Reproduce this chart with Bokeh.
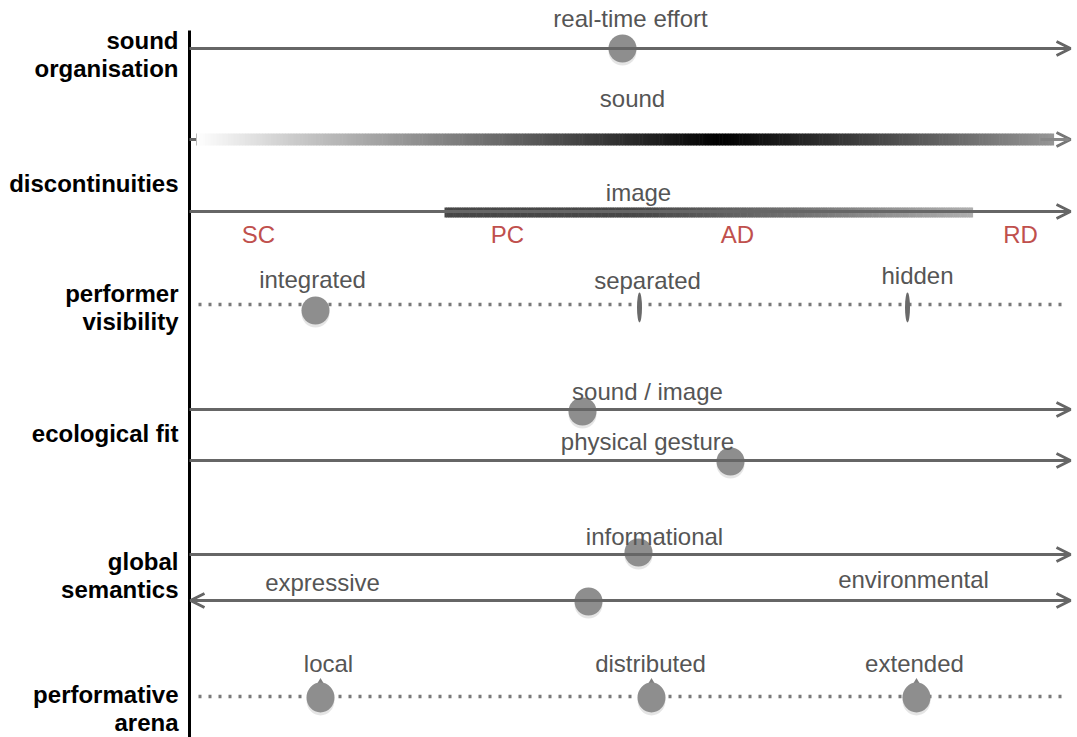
import numpy as np
from bokeh.plotting import figure
from bokeh.models import Range1d, Arrow, OpenHead
from bokeh.core.properties import value
from bokeh.embed import file_html
from bokeh.resources import INLINE

# ---------------- data ----------------
row_labels = ["sound", "organisation", "discontinuities", "performer", "visibility",
              "ecological fit", "global", "semantics", "performative", "arena"]
row_label_y = [40, 68, 183, 293, 321, 433, 561, 589, 694, 722]

# solid continua (y of each axis line)
axis_y = [48, 211, 409, 460, 554]
double_axis_y = [600]
dotted_axis_y = [304, 696]

# circle markers on continua (x position, y of row)
circle_x = [622, 315, 582, 730, 638, 588]
circle_y = [48, 310, 411, 461, 552, 601]

# thin ellipse markers (performer visibility)
thin_x = [639, 907]
thin_y = [307, 307]

# oval markers (performative arena)
oval_x = [320, 651, 916]
oval_y = [697, 697, 697]

# grey descriptive labels
label_text = ["real-time effort", "sound", "image", "integrated", "separated", "hidden",
              "sound / image", "physical gesture", "informational", "expressive",
              "environmental", "local", "distributed", "extended"]
label_x = [630, 632, 638, 312, 647, 917, 647, 647, 654, 322, 913, 328, 650, 914]
label_y = [18, 98, 192, 279, 280, 275, 391, 441, 536, 582, 579, 663, 663, 663]

# red category labels
cat_text = ["SC", "PC", "AD", "RD"]
cat_x = [258, 507, 737, 1020]
cat_y = [234, 234, 234, 234]

# gradient stops (x, grey level 0-255)
sound_grad_x = [196, 300, 720, 1053]
sound_grad_v = [255, 200, 0, 150]
image_grad_x = [444, 640, 800, 972]
image_grad_v = [70, 72, 115, 175]

# ---------------- figure ----------------
FONT = "Liberation Sans"
TXT = "#555555"
LINE = "#666666"
MARK = "#8e8e8e"
RED = "#c0504d"

p = figure(width=1077, height=737, x_range=Range1d(0, 1077), y_range=Range1d(737, 0),
           output_backend="svg", toolbar_location=None, min_border=0)
p.axis.visible = False
p.grid.visible = False
p.outline_line_color = None
p.background_fill_color = "white"
p.border_fill_color = "white"

X0, X1 = 189, 1070

# vertical black spine
p.segment(x0=[X0], y0=[30], x1=[X0], y1=[737], line_width=3, line_color="black")

# solid arrows
for y in axis_y:
    p.add_layout(Arrow(end=OpenHead(size=14, line_color=LINE, line_width=3),
                       x_start=X0, y_start=y, x_end=X1, y_end=y,
                       line_color=LINE, line_width=3))
for y in double_axis_y:
    p.add_layout(Arrow(start=OpenHead(size=14, line_color=LINE, line_width=3),
                       end=OpenHead(size=14, line_color=LINE, line_width=3),
                       x_start=X0 + 1, y_start=y, x_end=X1, y_end=y,
                       line_color=LINE, line_width=3))

# sound gradient bar
p.segment(x0=[X0], y0=[139], x1=[200], y1=[139], line_width=3, line_color=LINE)
p.add_layout(Arrow(end=OpenHead(size=14, line_color="#777777", line_width=3),
                   x_start=1040, y_start=139, x_end=X1, y_end=139,
                   line_color="#888888", line_width=3))

def grad_bar(xs, vs, yc, h):
    n = 300
    edges = np.linspace(xs[0], xs[-1], n + 1)
    mids = (edges[:-1] + edges[1:]) / 2
    g = np.interp(mids, xs, vs).astype(int)
    cols = ["#%02x%02x%02x" % (v, v, v) for v in g]
    p.quad(left=edges[:-1], right=edges[1:] + 0.6, top=[yc - h / 2] * n,
           bottom=[yc + h / 2] * n, fill_color=cols, line_color=None)

grad_bar(sound_grad_x, sound_grad_v, 139, 12)
p.segment(x0=[sound_grad_x[0]], y0=[133], x1=[sound_grad_x[0]], y1=[145],
          line_color="#bbbbbb", line_width=1)
grad_bar(image_grad_x, image_grad_v, 212, 10)

# dotted continua
for y in dotted_axis_y:
    p.line([198, 1062], [y, y], line_dash="3 7", line_width=3.5, line_color="#7a7a7a")

# marker shadows
p.scatter(x=circle_x, y=[v + 3 for v in circle_y], size=28, fill_color="black",
          fill_alpha=0.10, line_color=None)
p.ellipse(x=oval_x, y=[v + 3 for v in oval_y], width=28, height=30, width_units="screen",
          height_units="screen", fill_color="black", fill_alpha=0.10, line_color=None)

# markers
p.scatter(x=circle_x, y=circle_y, size=28, fill_color=MARK, line_color=None)
p.ellipse(x=thin_x, y=thin_y, width=5, height=30, width_units="screen",
          height_units="screen", fill_color="#6a6a6a", line_color=None)
p.scatter(x=oval_x, y=[v - 15 for v in oval_y], size=8, marker="triangle",
          fill_color="#808080", line_color=None)
p.ellipse(x=oval_x, y=oval_y, width=28, height=30, width_units="screen",
          height_units="screen", fill_color=MARK, line_color=None)

# texts
p.text(x=[178] * len(row_labels), y=row_label_y, text=row_labels,
       text_font=value(FONT), text_font_style="bold", text_font_size="24px",
       text_align="right", text_baseline="middle", text_color="black")
p.text(x=label_x, y=label_y, text=label_text, text_font=value(FONT),
       text_font_size="24px", text_align="center", text_baseline="middle",
       text_color=TXT)
p.text(x=cat_x, y=cat_y, text=cat_text, text_font=value(FONT),
       text_font_size="24px", text_align="center", text_baseline="middle",
       text_color=RED)

open("out.html", "w").write(file_html(p, INLINE))
